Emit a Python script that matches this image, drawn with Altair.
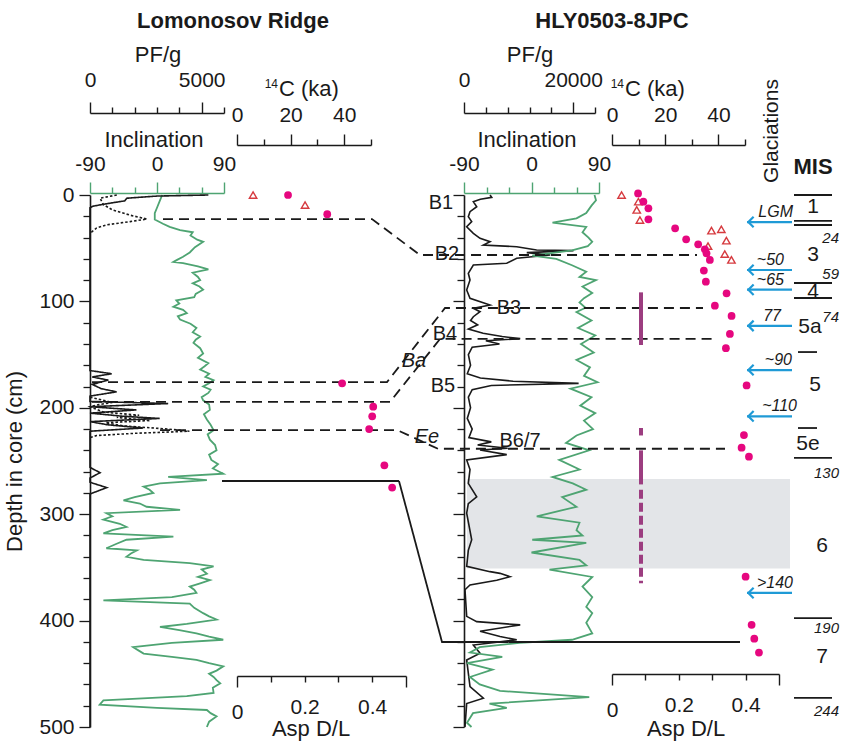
import altair as alt
import pandas as pd

# ------------------------------------------------------------------ data
# Lomonosov Ridge core: (depth cm, inclination deg)
lr_inclination = [
    (0, 7), (5, 4), (12, 0), (17, -3), (23, -3), (27, 8), (30, 17), (33, 31), (35, 48), (38, 45),
    (42, 54), (44, 62), (49, 51), (54, 44), (58, 35), (61, 27), (63, 22), (64, 35), (67, 55),
    (70, 69), (73, 48), (77, 55), (80, 58), (83, 48), (86, 57), (89, 62), (93, 52), (96, 50),
    (99, 26), (102, 30), (105, 22), (108, 35), (111, 40), (114, 28), (117, 31), (121, 45),
    (125, 53), (129, 48), (133, 58), (136, 52), (139, 49), (144, 58), (149, 62), (153, 55),
    (158, 69), (161, 64), (164, 58), (168, 70), (171, 65), (174, 76), (177, 70), (180, 62),
    (183, 72), (186, 69), (190, 60), (193, 62), (197, 70), (202, 71), (206, 63), (211, 67),
    (216, 72), (221, 76), (225, 68), (230, 71), (235, 78), (240, 80), (244, 70), (249, 73),
    (253, 82), (257, 75), (262, 89), (265, 15), (268, 67), (271, 4), (274, -18), (277, -10),
    (280, -5), (284, -30), (287, -45), (290, -23), (293, -14), (296, 31), (299, -68), (302, -60),
    (305, -72), (309, -50), (312, -41), (315, -60), (318, -72), (321, 22), (324, -41), (328, -55),
    (332, -68), (334, -27), (337, -35), (340, -41), (343, -18), (346, 44), (349, 76), (352, 60),
    (356, 67), (359, 55), (362, 71), (365, 58), (368, 44), (371, 50), (374, 53), (378, 20),
    (381, -72), (384, 44), (388, 50), (393, 62), (396, 70), (399, 80), (403, 40), (406, 4),
    (409, 30), (412, 53), (415, 70), (418, 89), (421, 20), (425, -32), (428, -25), (431, -18),
    (434, 20), (437, 53), (440, 70), (443, 89), (447, 80), (450, 70), (453, 76), (456, 80),
    (459, 85), (463, 75), (468, 76), (471, 40), (475, -72), (479, -77), (482, 0), (484, 67),
    (487, 72), (490, 80), (495, 70), (500, 67),
]
# Lomonosov Ridge planktic foraminifera per gram (solid record)
lr_pf_solid = [
    (0, 5300), (1, 3000), (3, 1650), (5.5, 1560), (8, 800), (10.5, 130), (12, 0), (165, 0),
    (168, 970), (171, 100), (174, 820), (178, 100), (182, 500), (185, 1190), (189, 0), (194, 0),
    (196, 3500), (199, 0), (202, 2080), (205, 0), (208, 1500), (210, 3120), (213, 0), (216, 800),
    (219, 2380), (222, 0), (256, 0), (261, 450), (266, 0), (270, 0), (275, 750), (281, 0), (500, 0),
]
# Lomonosov Ridge planktic foraminifera per gram (dotted record, two segments)
lr_pf_dotted_top = [
    (0, 1200), (3, 450), (9, 600), (14, 1000), (19, 1800), (22.6, 2550), (25, 1800), (28, 760),
    (31, 300), (36, 0),
]
lr_pf_dotted_deep = [
    (190, 0), (195, 1000), (197, 400), (199, 0), (204, 600), (207, 2200), (209, 1200), (212, 2700),
    (214, 700), (217, 1500), (220, 3500), (222, 4450), (224, 2000), (226, 300), (228, 0),
]
lr_c14 = [(0, 6.0), (9.4, 25.4)]
lr_asp = [(0, 0.151), (18, 0.267), (177, 0.311), (199, 0.403), (208, 0.40), (220, 0.391),
          (254, 0.436), (275, 0.459)]

# HLY0503-8JPC core
hly_inclination = [
    (0, 84), (5, 86), (10, 80), (17, 73), (22, 60), (26, 28), (30, 73), (35, 68), (40, 76),
    (44, 81), (48, 75), (52, 54), (57, 1), (60, 33), (66, 54), (72, 73), (77, 64), (80, 86),
    (86, 68), (92, 81), (97, 70), (101, 64), (106, 72), (110, 60), (118, 80), (125, 62),
    (132, 85), (140, 66), (148, 83), (155, 60), (162, 78), (170, 70), (176, 88), (182, 52),
    (190, 80), (198, 65), (205, 85), (212, 70), (220, 82), (226, 60), (233, 46), (240, 77),
    (249, 37), (258, 64), (265, 28), (271, 55), (277, 73), (284, 41), (293, 60), (302, 7),
    (308, 64), (315, 60), (320, 68), (324, 1), (327, 73), (336, 0), (343, 64), (348, 73),
    (352, 24), (359, 81), (368, 68), (378, 81), (387, 73), (393, 81), (402, 73), (412, 81),
    (418, 54), (421, -16), (425, -69), (430, -82), (434, -39), (440, -86), (446, -52),
    (453, -82), (460, -69), (466, -42), (472, 77), (478, -56), (482, -33), (487, -78),
    (496, -86), (500, -80),
]
hly_pf = [
    (0, 4770), (2.2, 5080), (4, 3000), (6.3, 1710), (11, 2330), (15.7, 1100), (20.4, 790),
    (25, 1410), (29.8, 490), (36, 1710), (40.7, 2940), (43.9, 4770), (47, 3550), (48.6, 9660),
    (51.7, 13300), (52.3, 20060), (54.2, 11500), (56.4, 15800), (59.5, 9660), (64.2, 7830),
    (65.8, 1710), (73.6, 790), (79.9, 1100), (89.3, 490), (97.1, 1100), (103.4, 4770),
    (106.5, 1710), (109.7, 2940), (114.4, 1710), (118, 1200), (122, 2500), (126, 800),
    (130, 3500), (133, 7000), (135, 10300), (137, 4000), (140, 6500), (143, 1500), (150, 800),
    (160, 1200), (168, 600), (172, 3000), (175, 9000), (177, 21000), (179, 5000), (183, 1500),
    (190, 800), (200, 1200), (210, 600), (220, 1500), (228, 900), (232, 5000), (235, 2500),
    (238, 8000), (239.7, 2940), (244, 7830), (249, 490), (258, 1100), (271, 790), (283.6, 2330),
    (290, 790), (299, 490), (324, 1410), (334, 790), (349, 490), (354, 4770), (355.6, 6600),
    (358.7, 8440), (362, 6000), (366.5, 1100), (371, 180), (396, 490), (401, 2330),
    (404, 10300), (410, 2940), (415, 6600), (418, 9660), (423, 1710), (430.7, 2940), (437, 490),
    (462, 1100), (473, 3550), (478, 490), (500, 180),
]
hly_c14 = [(0, 3.6), (6.3, 9.9), (14, 9.3), (23.5, 10.5), (32.2, 41.1), (33.5, 37.4),
           (42.9, 43.0), (48, 36.1), (55.5, 42.4), (61, 44.9)]
hly_asp = [(-1.5, 0.078), (6.3, 0.094), (12.5, 0.109), (22.9, 0.109), (31.3, 0.189),
           (41.7, 0.222), (46.4, 0.258), (51, 0.278), (54.8, 0.283), (61, 0.293), (71, 0.275),
           (81.5, 0.281), (92.4, 0.343), (104, 0.308), (113.7, 0.358), (130.6, 0.353),
           (144, 0.341), (179, 0.403), (225.6, 0.395), (237.5, 0.388), (246, 0.41),
           (358.7, 0.400), (404, 0.418), (417, 0.426), (430, 0.44)]

# correlation tie lines: name, style, depth in Lomonosov core, depth in HLY core
tie_names = ["B2", "B3", "B4", "B6/7", "base"]
tie_styles = ["dash", "dash", "dash", "dash", "solid"]
tie_lr_depth = [22.6, 175.8, 194.5, 220.9, 268.8]
tie_hly_depth = [56.4, 106.2, 135.3, 238.5, 420.1]

band_labels = ["B1", "B2", "B3", "B4", "B5", "B6/7"]
band_label_depth = [7.5, 55.5, 106, 130.6, 179.5, 231]
corr_labels = ["Ba", "Ee"]
corr_label_depth = [156, 227]

grey_interval = (267, 351)          # depth cm
purple_solid = [(91.5, 141), (240, 272)]
purple_dash = [(219, 226), (277, 365)]

mis_boundary_depth = [0, 24.4, 28.2, 82.7, 96.8, 147.6, 219, 247, 397.6, 472.7]
mis_boundary_kind = ["full", "full", "full", "full", "full", "short", "short", "full", "full", "full"]
mis_names = ["1", "3", "4", "5a", "5", "5e", "6", "7"]
mis_name_depth = [11, 56, 91, 124, 178.6, 234, 330, 434]
mis_ages = ["24", "59", "74", "130", "190", "244"]
mis_age_depth = [40.4, 74.2, 114.7, 261.3, 407, 485]
glaciation_labels = ["LGM", "~50", "~65", "77", "~90", "~110", ">140"]
glaciation_depth = [25.4, 70.5, 89, 123, 164.5, 208, 374]

# ------------------------------------------------------------------ layout / style
FONT = "Liberation Sans"
W, H = 752, 532
X0, Y0 = 90, 195
GREEN = "#4ea472"
BLACK = "#1a1a1a"
PINK = "#e6077f"
RED = "#d63a3f"
BLUE = "#1f9ad6"
PURPLE = "#9c3d80"
GREY = "#e3e5e8"
LABEL_FS = 21
TITLE_FS = 22

TIE_X = {"B2": (163, 372, 420, 697), "B3": (92, 387, 445, 703), "B4": (92, 390, 440, 713),
         "B6/7": (160, 397, 438, 725), "base": (222, 399, 442, 740)}
BAND_LABEL_X = [441, 447, 509, 445, 443, 520]
CORR_LABEL_X = [414, 427]
GREY_X = (467, 790)
PURPLE_X = 641
MIS_KIND_X = {"full": (794, 832), "short": (798, 817)}
MIS_NAME_X = [813, 813, 813, 810, 815, 808, 822, 822]
MIS_AGE_X = 839
ARROW_X = (747, 792)
ARROW_LABEL_X = [793, 784, 784, 781, 792, 797, 793]

DEPTH = alt.Scale(domain=[0, 500], reverse=True, nice=False, zero=False)


def px_scale():
    return alt.Scale(domain=[X0, X0 + W], range=[0, W], nice=False, zero=False)


def py_scale():
    return alt.Scale(domain=[Y0, Y0 + H], range=[0, H], nice=False, zero=False)


def xs(domain, a, b):
    return alt.Scale(domain=domain, range=[a - X0, b - X0], nice=False, zero=False)


def x_axis(orient, values, major, labelled, offset, color=BLACK, pad=12):
    return alt.Axis(
        orient=orient, offset=offset, values=values, title=None, grid=False,
        labelExpr=f"({labelled}) ? '' + datum.value : ''",
        tickSize={"condition": {"test": major, "value": 11}, "value": 6},
        domainColor=color, tickColor=color, domainWidth=1.4, tickWidth=1.4,
        labelColor=BLACK, labelFontSize=LABEL_FS, labelFont=FONT, labelPadding=pad,
        labelFlush=False, labelOverlap=False, labelBound=False,
    )


def y_axis(offset, labels, title=None):
    kw = dict(
        orient="left", offset=offset, values=list(range(0, 501, 20)), grid=False,
        tickSize={"condition": {"test": "datum.value % 100 === 0", "value": 11}, "value": 7},
        domainColor=BLACK, tickColor=BLACK, domainWidth=1.6, tickWidth=1.3,
        labelExpr="datum.value % 100 === 0 ? '' + datum.value : ''" if labels else "''",
        labelColor=BLACK, labelFontSize=LABEL_FS, labelFont=FONT, labelPadding=5,
        labelOverlap=False,
    )
    if title:
        kw.update(title=title, titleFontSize=TITLE_FS, titleFont=FONT, titleFontWeight="normal",
                  titleColor=BLACK, titlePadding=12)
    else:
        kw.update(title=None)
    return alt.Axis(**kw)


def depth_y(axis=None):
    return alt.Y("depth:Q", scale=DEPTH, axis=axis)


# ------------------------------------------------------------------ frames
lr_inc_df = pd.DataFrame(lr_inclination, columns=["depth", "val"])
hly_inc_df = pd.DataFrame(hly_inclination, columns=["depth", "val"])
rows = []
for seg, series, pts in [("s", "solid", lr_pf_solid), ("d1", "dotted", lr_pf_dotted_top),
                         ("d2", "dotted", lr_pf_dotted_deep)]:
    for d, v in pts:
        rows.append({"depth": d, "val": v, "seg": seg, "series": series})
lr_pf_df = pd.DataFrame(rows)
hly_pf_df = pd.DataFrame(hly_pf, columns=["depth", "val"])
lr_c14_df = pd.DataFrame(lr_c14, columns=["depth", "val"])
lr_asp_df = pd.DataFrame(lr_asp, columns=["depth", "val"])
hly_c14_df = pd.DataFrame(hly_c14, columns=["depth", "val"])
hly_asp_df = pd.DataFrame(hly_asp, columns=["depth", "val"])

tie_rows = []
for name, style, dl, dh in zip(tie_names, tie_styles, tie_lr_depth, tie_hly_depth):
    xa, xb, xc, xd = TIE_X[name]
    for k, (x, d) in enumerate([(xa, dl), (xb, dl), (xc, dh), (xd, dh)]):
        tie_rows.append({"line": name, "style": style, "x": x, "depth": d, "k": k})
tie_df = pd.DataFrame(tie_rows)

# ------------------------------------------------------------------ layers
band = alt.Chart(pd.DataFrame([{"x0": GREY_X[0], "x1": GREY_X[1],
                                "d0": grey_interval[0], "d1": grey_interval[1]}])).mark_rect(
    color=GREY).encode(
    x=alt.X("x0:Q", scale=px_scale(), axis=None), x2="x1:Q",
    y=alt.Y("d0:Q", scale=DEPTH, axis=None), y2="d1:Q")

l_inc = alt.Chart(lr_inc_df).mark_line(color=GREEN, strokeWidth=1.8).encode(
    x=alt.X("val:Q", scale=xs([-90, 90], 90, 224),
            axis=x_axis("top", list(range(-90, 91, 30)), "datum.value % 90 === 0",
                        "datum.value % 90 === 0", 2, GREEN, 8)),
    y=depth_y(y_axis(0, True, "Depth in core (cm)")),
    order="depth:Q")

l_pf = alt.Chart(lr_pf_df).mark_line(color=BLACK, strokeWidth=1.6).encode(
    x=alt.X("val:Q", scale=xs([0, 6000], 90, 224),
            axis=x_axis("top", list(range(0, 6001, 1000)), "datum.value % 5000 === 0",
                        "datum.value % 5000 === 0", 82, BLACK, 12)),
    y=depth_y(),
    strokeDash=alt.StrokeDash("series:N", scale=alt.Scale(domain=["solid", "dotted"],
                                                          range=[[1, 0], [2.5, 2]]), legend=None),
    detail="seg:N", order="depth:Q")

l_c14 = alt.Chart(lr_c14_df).mark_point(shape="triangle-up", filled=False, color=RED,
                                        size=55, strokeWidth=1.4, opacity=1).encode(
    x=alt.X("val:Q", scale=xs([0, 50], 237, 371),
            axis=x_axis("top", list(range(0, 51, 10)), "datum.value % 20 === 0",
                        "datum.value % 20 === 0", 50, BLACK, 9)),
    y=depth_y())

asp_vals = [0, 0.1, 0.2, 0.3, 0.4, 0.5]
asp_major = "datum.value === 0 || datum.value === 0.5"
asp_lab = "datum.value === 0 || datum.value === 0.2 || datum.value === 0.4"

l_asp = alt.Chart(lr_asp_df).mark_circle(color=PINK, size=60, opacity=1).encode(
    x=alt.X("val:Q", scale=xs([0, 0.5], 237, 406),
            axis=x_axis("bottom", asp_vals, asp_major, asp_lab, -51, BLACK, 14)),
    y=depth_y())

r_inc = alt.Chart(hly_inc_df).mark_line(color=GREEN, strokeWidth=1.8).encode(
    x=alt.X("val:Q", scale=xs([-90, 90], 464, 599),
            axis=x_axis("top", list(range(-90, 91, 30)), "datum.value % 90 === 0",
                        "datum.value % 90 === 0", 2, GREEN, 8)),
    y=depth_y(y_axis(-(464 - X0), False)),
    order="depth:Q")

r_pf = alt.Chart(hly_pf_df).mark_line(color=BLACK, strokeWidth=1.6).encode(
    x=alt.X("val:Q", scale=xs([0, 24000], 464, 595),
            axis=x_axis("top", list(range(0, 24001, 4000)), "datum.value % 20000 === 0",
                        "datum.value % 20000 === 0", 82, BLACK, 12)),
    y=depth_y(), order="depth:Q")

r_c14 = alt.Chart(hly_c14_df).mark_point(shape="triangle-up", filled=False, color=RED,
                                         size=55, strokeWidth=1.4, opacity=1).encode(
    x=alt.X("val:Q", scale=xs([0, 50], 612, 745),
            axis=x_axis("top", list(range(0, 51, 10)), "datum.value % 20 === 0",
                        "datum.value % 20 === 0", 50, BLACK, 9)),
    y=depth_y())

r_asp = alt.Chart(hly_asp_df).mark_circle(color=PINK, size=60, opacity=1).encode(
    x=alt.X("val:Q", scale=xs([0, 0.5], 612, 779),
            axis=x_axis("bottom", asp_vals, asp_major, asp_lab, -53, BLACK, 14)),
    y=depth_y())

ties = alt.Chart(tie_df).mark_line(color=BLACK, strokeWidth=1.8).encode(
    x=alt.X("x:Q", scale=px_scale(), axis=None),
    y=depth_y(),
    detail="line:N", order="k:Q",
    strokeDash=alt.StrokeDash("style:N", scale=alt.Scale(domain=["dash", "solid"],
                                                         range=[[10, 6], [1, 0]]), legend=None))

pur_s = alt.Chart(pd.DataFrame([{"x": PURPLE_X, "d0": a, "d1": b} for a, b in purple_solid])
                  ).mark_rule(color=PURPLE, strokeWidth=4).encode(
    x=alt.X("x:Q", scale=px_scale(), axis=None),
    y=alt.Y("d0:Q", scale=DEPTH, axis=None), y2="d1:Q")
pur_d = alt.Chart(pd.DataFrame([{"x": PURPLE_X, "d0": a, "d1": b} for a, b in purple_dash])
                  ).mark_rule(color=PURPLE, strokeWidth=4, strokeDash=[9, 4]).encode(
    x=alt.X("x:Q", scale=px_scale(), axis=None),
    y=alt.Y("d0:Q", scale=DEPTH, axis=None), y2="d1:Q")


def depth_text(labels, depths, xs_, **mk):
    df = pd.DataFrame({"t": labels, "depth": depths, "x": xs_})
    return alt.Chart(df).mark_text(font=FONT, color=BLACK, baseline="middle", **mk).encode(
        x=alt.X("x:Q", scale=px_scale(), axis=None), y=depth_y(), text="t:N")


b_text = depth_text(band_labels, band_label_depth, BAND_LABEL_X, fontSize=20, align="center")
c_text = depth_text(corr_labels, corr_label_depth, CORR_LABEL_X, fontSize=20,
                    fontStyle="italic", align="center")
mis_n = depth_text(mis_names, mis_name_depth, MIS_NAME_X, fontSize=21, align="center")
mis_a = depth_text(mis_ages, mis_age_depth, [MIS_AGE_X] * len(mis_ages), fontSize=15,
                   fontStyle="italic", align="right")
arr_t = depth_text(glaciation_labels, glaciation_depth, ARROW_LABEL_X, fontSize=16,
                   fontStyle="italic", align="right", dy=-10)

mis_l = alt.Chart(pd.DataFrame({
    "depth": mis_boundary_depth,
    "x0": [MIS_KIND_X[k][0] for k in mis_boundary_kind],
    "x1": [MIS_KIND_X[k][1] for k in mis_boundary_kind]})).mark_rule(
    color=BLACK, strokeWidth=1.8).encode(
    x=alt.X("x0:Q", scale=px_scale(), axis=None), x2="x1:Q", y=depth_y())

arr_df = pd.DataFrame({"depth": glaciation_depth, "x0": ARROW_X[0], "x1": ARROW_X[1],
                       "xh": ARROW_X[0] + 4})
arr_l = alt.Chart(arr_df).mark_rule(color=BLUE, strokeWidth=2.2).encode(
    x=alt.X("x0:Q", scale=px_scale(), axis=None), x2="x1:Q", y=depth_y())
arr_h = alt.Chart(arr_df).mark_point(shape="M0.5,-1L-0.5,0L0.5,1", filled=False, color=BLUE,
                                     strokeWidth=2.2, size=110, opacity=1).encode(
    x=alt.X("xh:Q", scale=px_scale(), axis=None), y=depth_y())


def px_text(items, **mk):
    df = pd.DataFrame(items, columns=["t", "px", "py"])
    return alt.Chart(df).mark_text(font=FONT, color=BLACK, baseline="middle", **mk).encode(
        x=alt.X("px:Q", scale=px_scale(), axis=None),
        y=alt.Y("py:Q", scale=py_scale(), axis=None), text="t:N")


titles = px_text([("Lomonosov Ridge", 233, 21), ("HLY0503-8JPC", 612, 21)],
                 fontSize=22, fontWeight="bold", align="center")
mis_head = px_text([("MIS", 813, 167)], fontSize=22, fontWeight="bold", align="center")
glac = px_text([("Glaciations", 772, 131)], fontSize=21, align="center", angle=270)
ax_titles = px_text([("PF/g", 158, 55), ("PF/g", 530, 55), ("Inclination", 154, 140),
                     ("Inclination", 527, 140), ("Asp D/L", 311, 729), ("Asp D/L", 686, 729)],
                    fontSize=TITLE_FS, align="center")
c14_main = px_text([("C (ka)", 279, 89), ("C (ka)", 625, 89)], fontSize=TITLE_FS, align="left")
c14_sup = px_text([("14", 278, 84), ("14", 624, 84)], fontSize=12, align="right")

chart = alt.layer(
    band, l_inc, l_pf, r_pf, r_inc, ties, pur_s, pur_d, l_c14, l_asp, r_c14, r_asp,
    b_text, c_text, mis_l, mis_n, mis_a, arr_l, arr_h, arr_t,
    titles, mis_head, glac, ax_titles, c14_main, c14_sup,
).resolve_scale(
    x="independent", y="independent", strokeDash="independent"
).resolve_axis(
    x="independent", y="independent"
).properties(
    width=W, height=H,
    autosize=alt.AutoSizeParams(type="none"),
    padding={"left": X0, "top": Y0, "right": 842 - X0 - W, "bottom": 741 - Y0 - H},
).configure(font=FONT).configure_view(stroke=None)

chart.save("out.html", embed_options={"renderer": "svg", "actions": False})
